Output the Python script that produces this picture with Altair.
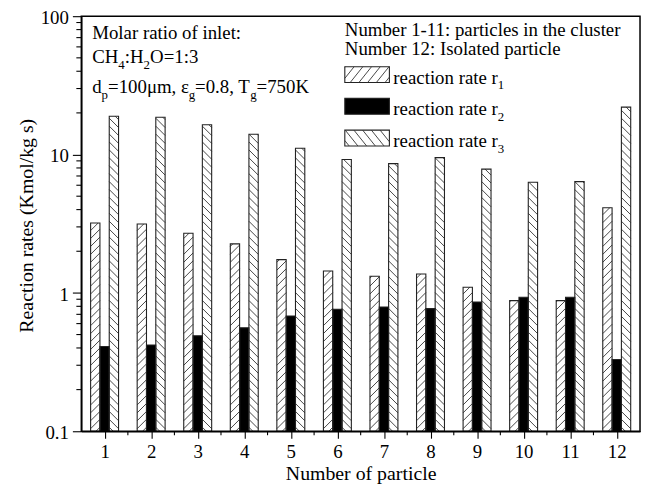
import altair as alt
import pandas as pd
import numpy as np

# ---------------- data ----------------
particles = list(range(1, 13))
r1 = [3.2, 3.15, 2.7, 2.26, 1.74, 1.44, 1.32, 1.37, 1.10, 0.88, 0.88, 4.13]
r2 = [0.41, 0.42, 0.49, 0.56, 0.68, 0.76, 0.79, 0.77, 0.86, 0.93, 0.93, 0.33]
r3 = [18.9, 18.6, 16.4, 14.0, 11.1, 9.2, 8.6, 9.5, 7.85, 6.3, 6.37, 22.0]
series_names = ["r1", "r2", "r3"]
series_subs = ["1", "2", "3"]
y_ticks = [0.1, 1, 10, 100]

# ---------------- layout ----------------
W, H = 564, 419
X_DOMAIN = [0.5, 12.5]
Y_DOMAIN = [0.1, 100]
PX_X = W / (X_DOMAIN[1] - X_DOMAIN[0])
PX_DEC = H / np.log10(Y_DOMAIN[1] / Y_DOMAIN[0])
BAR_W = 0.2
OFFSETS = {"r1": -0.2, "r2": 0.0, "r3": 0.2}
FONT = "Liberation Serif"

rows = []
for s, vals in zip(series_names, [r1, r2, r3]):
    for p, v in zip(particles, vals):
        c = p + OFFSETS[s]
        rows.append(dict(series=s, particle=p, x0=c - BAR_W / 2, x1=c + BAR_W / 2,
                         value=v, base=Y_DOMAIN[0]))
bars = pd.DataFrame(rows)


def hatch_segments(w, h, spacing, slope, mirror):
    segs = []
    c = -slope * w + spacing * 0.5
    while c < h:
        xs = max(0.0, -c / slope)
        xe = min(w, (h - c) / slope)
        if xe - xs > 0.4:
            ya, yb = c + slope * xs, c + slope * xe
            if mirror:
                xs, xe = w - xs, w - xe
            segs.append((xs, ya, xe, yb))
        c += spacing
    return segs


hrows = []
for r in bars.itertuples():
    if r.series == "r2":
        continue
    w_px = (r.x1 - r.x0) * PX_X
    h_px = PX_DEC * np.log10(r.value / r.base)
    for xa, ya, xb, yb in hatch_segments(w_px, h_px, 8.0, 1.0, r.series == "r3"):
        hrows.append(dict(xa=r.x0 + xa / PX_X, xb=r.x0 + xb / PX_X,
                          ya=r.base * 10 ** (ya / PX_DEC), yb=r.base * 10 ** (yb / PX_DEC)))
hatch = pd.DataFrame(hrows)

# ---------------- text helpers (Times metrics) ----------------
TIMES = {" ": 250, "(": 333, ")": 333, ",": 250, "-": 333, ".": 250, "/": 278, ":": 278,
         "=": 564, "A": 722, "C": 667, "H": 722, "I": 333, "K": 722, "M": 889, "N": 722,
         "O": 722, "R": 667, "T": 611, "a": 444, "b": 500, "c": 444, "d": 500, "e": 444,
         "f": 333, "g": 500, "h": 500, "i": 278, "k": 500, "l": 278, "m": 778, "n": 500,
         "o": 500, "p": 500, "r": 333, "s": 389, "t": 278, "u": 500, "μ": 500, "ε": 440}


def tw(s, fs):
    return sum(TIMES.get(ch, 500) for ch in s) * fs / 1000.0


def layout(parts, x, y, fs=19, sfs=13, sdy=6):
    out, cx = [], x
    for text, sub in parts:
        f = sfs if sub else fs
        out.append(dict(text=text, x=cx, y=y + (sdy if sub else 0), fs=f))
        cx += tw(text, f)
    return out


texts = []
texts += layout([("Molar ratio of inlet:", False)], 11, 23.5)
texts += layout([("CH", False), ("4", True), (":H", False), ("2", True), ("O=1:3", False)], 11, 47.7)
texts += layout([("d", False), ("p", True), ("=100μm, ε", False), ("g", True),
                 ("=0.8, T", False), ("g", True), ("=750K", False)], 11, 77.7)
texts += layout([("Number 1-11: particles in the cluster", False)], 266, 19.5)
texts += layout([("Number 12: Isolated particle", False)], 266, 39.5)

LEG_X, LEG_W, LEG_TX = 266, 45, 315
leg_base = [68, 100, 132]
sw_rows, lh_rows = [], []
for s, sub, b in zip(series_names, series_subs, leg_base):
    texts += layout([("reaction rate r", False), (sub, True)], LEG_TX, b)
    top, bot = b - 17, b - 1
    sw_rows.append(dict(series=s, sx0=LEG_X, sx1=LEG_X + LEG_W, sy0=top, sy1=bot))
    if s != "r2":
        for xa, ya, xb, yb in hatch_segments(LEG_W, bot - top, 11.0, 1.25, s == "r3"):
            lh_rows.append(dict(xa=LEG_X + xa, xb=LEG_X + xb, ya=bot - ya, yb=bot - yb))
text_df = pd.DataFrame(texts)
sw_df = pd.DataFrame(sw_rows)
lh_df = pd.DataFrame(lh_rows)

# ---------------- chart ----------------
xs = alt.Scale(domain=X_DOMAIN, nice=False, zero=False)
ys = alt.Scale(type="log", domain=Y_DOMAIN, nice=False)
fill_scale = alt.Scale(domain=series_names, range=["white", "black", "white"])

x_axis = alt.Axis(values=particles, format="d", tickSize=7, labelPadding=4, labelFontSize=19,
                  titleFontSize=20, title="Number of particle", titleY=49,
                  titleBaseline="alphabetic", labelFlush=False, labelOverlap=False)
y_axis = alt.Axis(values=y_ticks, format="~g", tickSize=9, labelPadding=4, labelFontSize=19,
                  labelOffset=1.5,
                  titleFontSize=20, title="Reaction rates (Kmol/kg s)", titleX=-49, titleY=211,
                  titleBaseline="alphabetic", labelOverlap=False)

bar_fill = alt.Chart(bars).mark_rect(strokeWidth=0).encode(
    x=alt.X("x0:Q", scale=xs, axis=x_axis),
    x2="x1",
    y=alt.Y("value:Q", scale=ys, axis=y_axis),
    y2="base",
    fill=alt.Fill("series:N", scale=fill_scale, legend=None),
)
hatch_layer = alt.Chart(hatch).mark_rule(stroke="#333", strokeWidth=0.9).encode(
    x=alt.X("xa:Q", scale=xs, axis=x_axis), x2="xb",
    y=alt.Y("ya:Q", scale=ys, axis=y_axis), y2="yb",
)
bar_outline = alt.Chart(bars).mark_rect(fillOpacity=0, stroke="#222", strokeWidth=1.1).encode(
    x=alt.X("x0:Q", scale=xs, axis=x_axis), x2="x1",
    y=alt.Y("value:Q", scale=ys, axis=y_axis), y2="base",
)

y_minor = [m * d for d in (0.1, 1, 10) for m in range(2, 10)]
x_minor = [p + 0.5 for p in particles[:-1]]
ymin_layer = alt.Chart(pd.DataFrame({"v": y_minor})).mark_rule(color="black", strokeWidth=1.1).encode(
    y=alt.Y("v:Q", scale=ys, axis=y_axis), x=alt.value(0), x2=alt.value(-5))
xmin_layer = alt.Chart(pd.DataFrame({"v": x_minor})).mark_rule(color="black", strokeWidth=1.1).encode(
    x=alt.X("v:Q", scale=xs, axis=x_axis), y=alt.value(H), y2=alt.value(H + 4))

frame = alt.Chart(pd.DataFrame({"k": [0]})).mark_rect(
    fillOpacity=0, stroke="black", strokeWidth=1.5
).encode(x=alt.value(0), x2=alt.value(W), y=alt.value(0), y2=alt.value(H))

sw_fill = alt.Chart(sw_df).mark_rect(stroke="#222", strokeWidth=1.1).encode(
    x=alt.X("sx0:Q", scale=None, axis=None), x2="sx1",
    y=alt.Y("sy0:Q", scale=None, axis=None), y2="sy1",
    fill=alt.Fill("series:N", scale=fill_scale, legend=None),
)
leg_hatch = alt.Chart(lh_df).mark_rule(stroke="#333", strokeWidth=0.9).encode(
    x=alt.X("xa:Q", scale=None, axis=None), x2="xb",
    y=alt.Y("ya:Q", scale=None, axis=None), y2="yb",
)
text_layer = alt.Chart(text_df).mark_text(align="left", baseline="alphabetic", font=FONT,
                                          color="black").encode(
    x=alt.X("x:Q", scale=None, axis=None),
    y=alt.Y("y:Q", scale=None, axis=None),
    text="text:N",
    size=alt.Size("fs:Q", scale=None, legend=None),
)

chart = alt.layer(
    bar_fill, hatch_layer, bar_outline, ymin_layer, xmin_layer, frame, sw_fill, leg_hatch, text_layer
).properties(
    width=W, height=H,
    autosize=alt.AutoSizeParams(type="none"),
    padding={"left": 74, "top": 6, "right": 2, "bottom": 54},
).configure_view(
    stroke=None
).configure_axis(
    grid=False, domainColor="black", domainWidth=1.5, tickColor="black", tickWidth=1.1,
    labelColor="black", titleColor="black", labelFont=FONT, titleFont=FONT,
    titleFontWeight="normal",
)

chart.save("out.html", embed_options={"renderer": "svg", "actions": False})
